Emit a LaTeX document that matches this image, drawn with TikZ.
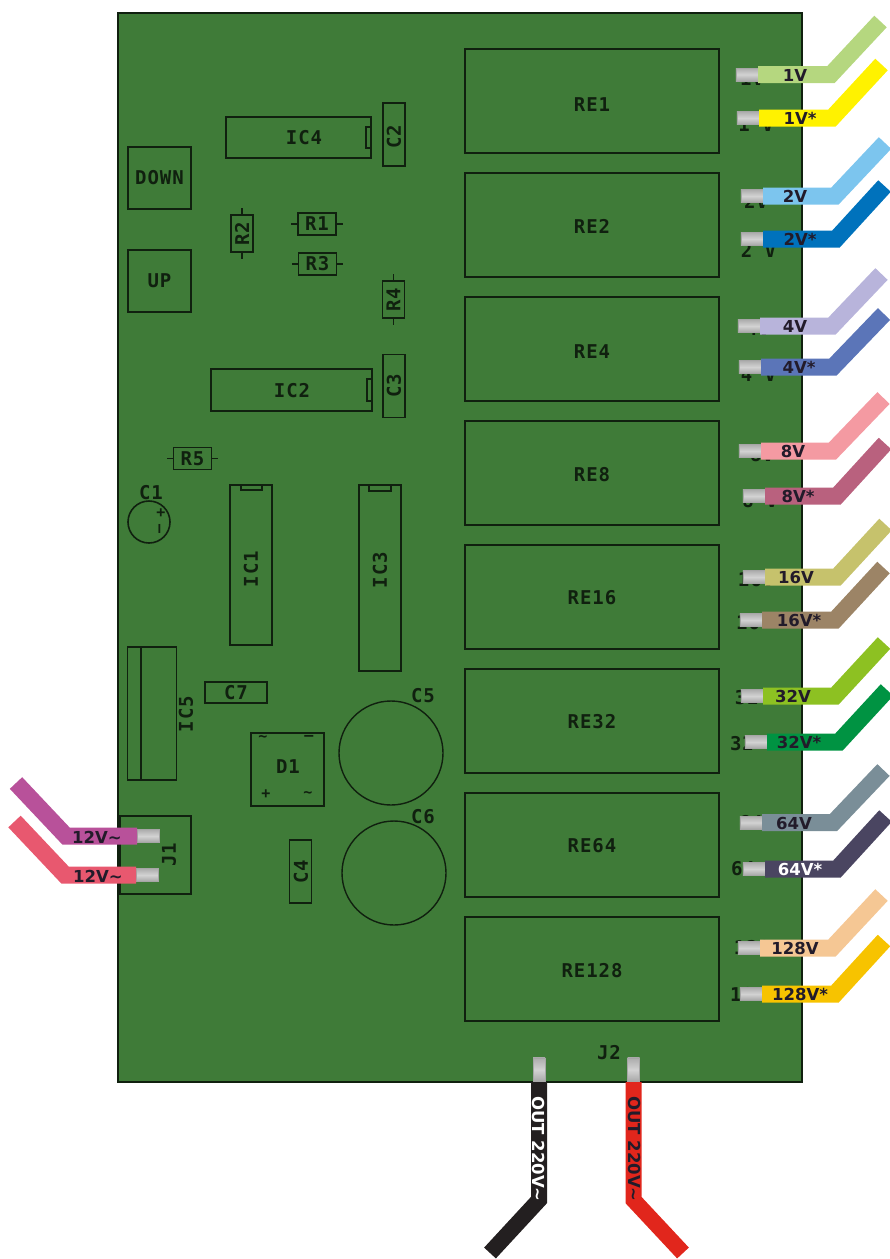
\documentclass[tikz,border=0pt]{standalone}
\usepackage{fontspec}
\usepackage{xcolor}
\usetikzlibrary{positioning}
\setmainfont{DejaVu Sans}
\newfontfamily\pcbfont[LetterSpace=5]{DejaVu Sans Mono}
\definecolor{boardgreen}{HTML}{3F7B38}
\definecolor{inkdark}{HTML}{10200F}
\definecolor{labeldark}{HTML}{221B2A}
\definecolor{wOne}{HTML}{B5D77F}
\definecolor{wOneS}{HTML}{FFF200}
\definecolor{wTwo}{HTML}{7CC5EE}
\definecolor{wTwoS}{HTML}{0072BC}
\definecolor{wFour}{HTML}{B8B4DB}
\definecolor{wFourS}{HTML}{5B75B8}
\definecolor{wEight}{HTML}{F49AA2}
\definecolor{wEightS}{HTML}{B9617E}
\definecolor{wSixteen}{HTML}{C6C26C}
\definecolor{wSixteenS}{HTML}{9C8466}
\definecolor{wThirtyTwo}{HTML}{8DC122}
\definecolor{wThirtyTwoS}{HTML}{009342}
\definecolor{wSixtyFour}{HTML}{7A8E98}
\definecolor{wSixtyFourS}{HTML}{4A4561}
\definecolor{wOneTwoEight}{HTML}{F5C794}
\definecolor{wOneTwoEightS}{HTML}{F7C300}
\definecolor{wPowerA}{HTML}{B8519A}
\definecolor{wPowerB}{HTML}{E8586F}
\definecolor{wOutA}{HTML}{231F20}
\definecolor{wOutB}{HTML}{E1261C}

\begin{document}
\begin{tikzpicture}[
  x=1pt, y=-1pt,
  silk/.style={font=\pcbfont\bfseries\fontsize{19}{19}\selectfont, text=inkdark, inner sep=0pt},
  polarity/.style={silk, font=\pcbfont\bfseries\fontsize{15}{15}\selectfont},
  part/.style={draw=inkdark, line width=1.6pt, inner sep=0pt, minimum width=#1},
  tallpart/.style={part=22pt, minimum height=63pt},
  widepart/.style={part=62pt, minimum height=21pt},
  resbox/.style={part=38pt, minimum height=22pt},
  resvert/.style={part=22pt, minimum height=37pt},
  trace/.style={draw=inkdark, line width=1.6pt},
  term/.style={draw=gray!70, line width=0.4pt, minimum width=22pt, minimum height=13pt,
    inner sep=0pt, top color=gray!65, bottom color=gray!70, middle color=gray!35},
  wire/.style={line width=17pt, miter limit=4},
  wiretext/.style={font=\bfseries\fontsize{16.5}{17}\selectfont, inner sep=0pt}
]
  \useasboundingbox (0,0) rectangle (890,1259);
  \node[draw=inkdark, line width=1.8pt, fill=boardgreen, minimum width=684pt, minimum height=1069pt, inner sep=0pt] (board) at (460,547.5) {};

  % relays
  \foreach \n/\yy/\ty in {1/101/105, 2/225/226, 4/349/352, 8/473/475, 16/597/598, 32/721/722, 64/845/846, 128/969/971} {
    \node[part=254pt, minimum height=104pt] (re\n) at (592,\yy) {};
    \node[silk] (rel\n) at (592,\ty) {RE\n};
  }

  % switches
  \node[part=63pt, minimum height=62pt, silk] (down) at (159.5,178) {DOWN};
  \node[part=63pt, minimum height=62pt, silk] (up) at (159.5,281) {UP};

  % ic packages
  \node[part=145pt, minimum height=41pt] (ic4) at (298.5,137.5) {};
  \node[silk] (ic4t) at (304,138) {IC4};
  \node[part=161pt, minimum height=42pt] (ic2) at (291.5,390) {};
  \node[silk] (ic2t) at (292,391) {IC2};
  \node[part=42pt, minimum height=160pt] (ic1) at (251,565) {};
  \node[silk, rotate=90] (ic1t) at (251,569) {IC1};
  \node[part=42pt, minimum height=186pt] (ic3) at (380,578) {};
  \node[silk, rotate=90] (ic3t) at (380,570) {IC3};
  \node[part=5pt, minimum height=21pt] (n4) at (368.5,137.5) {};
  \node[part=5pt, minimum height=22pt] (n2) at (369.5,390) {};
  \node[part=21pt, minimum height=5pt] (n1) at (251.5,487.5) {};
  \node[part=22pt, minimum height=6pt] (n3) at (380,488) {};
  \node[part=49pt, minimum height=133pt] (ic5) at (152,713.5) {};
  \draw[trace] (141,647) -- (141,780);
  \node[silk, rotate=90] (ic5t) at (186,714) {IC5};

  % capacitors
  \node[tallpart] (c2) at (394,134.5) {};
  \node[silk, rotate=90] (c2t) at (394,137) {C2};
  \node[tallpart] (c3) at (394,386) {};
  \node[silk, rotate=90] (c3t) at (394,386) {C3};
  \node[tallpart] (c4) at (300.5,871.5) {};
  \node[silk, rotate=90] (c4t) at (301,872) {C4};
  \node[widepart, silk] (c7) at (236,692.5) {C7};
  \node[circle, part=42pt] (c1) at (149,522) {};
  \node[silk] (c1t) at (151,493) {C1};
  \node[polarity] (c1p) at (161,513) {+};
  \node[polarity, rotate=90] (c1m) at (161,529) {\textendash};
  \node[circle, draw=inkdark, line width=1.4pt, minimum width=104pt, inner sep=0pt] (c5) at (391,753) {};
  \node[silk] (c5t) at (423,696) {C5};
  \node[circle, draw=inkdark, line width=1.4pt, minimum width=104pt, inner sep=0pt] (c6) at (394,873) {};
  \node[silk] (c6t) at (423,817) {C6};

  % resistors
  \foreach \n/\xx/\yy in {R1/317/224, R3/317.5/264, R5/192.5/458.5} {
    \node[resbox, silk] (\n) at (\xx,\yy) {\n};
    \draw[trace] (\n.west) -- ++(-6,0) (\n.east) -- ++(6,0);
  }
  \foreach \n/\xx/\yy in {R2/242/233.5, R4/393.5/299.5} {
    \node[resvert] (\n) at (\xx,\yy) {};
    \node[silk, rotate=90] (\n t) at (\xx,\yy) {\n};
    \draw[trace] (\n.north) -- ++(0,-6) (\n.south) -- ++(0,6);
  }

  % bridge
  \node[part=73pt, minimum height=73pt] (d1) at (287.5,769.5) {};
  \node[silk] (d1t) at (288,767) {D1};
  \node[polarity] (d1a) at (263,739) {\textasciitilde};
  \node[polarity] (d1b) at (309,738) {\textendash};
  \node[polarity] (d1c) at (266,794) {+};
  \node[polarity] (d1d) at (308,795) {\textasciitilde};

  % connectors
  \node[part=71pt, minimum height=78pt] (j1) at (155.5,855) {};
  \node[silk, rotate=90] (j1t) at (169,855) {J1};
  \node[silk] (j2) at (609,1053) {J2};

  % voltage wires on the right
  \foreach \n/\lab/\col/\tcol/\hid/\hx/\hy/\sx/\yy/\bx/\ex/\ey/\lx in {
    a/1V/wOne/labeldark/1V/752/79/758/74.5/831/880.5/21.5/795,
    b/1V*/wOneS/labeldark/1 V/756/125/759/118/832/881.5/64.5/800,
    c/2V/wTwo/labeldark/2V/756/201.5/763/196/835/885/143/795,
    d/2V*/wTwoS/labeldark/2 V/758.5/250/763/239/836/884.5/186/800,
    e/4V/wFour/labeldark/4V/758/329/760/326/832/881.5/274/795,
    f/4V*/wFourS/labeldark/4 V/758.5/375/761/367/833/884/314/799,
    g/8V/wEight/labeldark/8V/762/455/761/451/832.5/883.5/398/793,
    h/8V*/wEightS/labeldark/8 V/760/501/765/496/837/885/443.5/798,
    i/16V/wSixteen/labeldark/16V/756/579.5/765/577/837/885.5/524.5/796,
    j/16V*/wSixteenS/labeldark/16/748/623/762/620/835/883.5/567.5/799,
    k/32V/wThirtyTwo/labeldark/32V/753/697.5/763/696/835/884/643/793,
    l/32V*/wThirtyTwoS/labeldark/32/742/744/767/742/839/887/690/799,
    m/64V/wSixtyFour/labeldark/64V/757/823/762/822.5/833.5/883.5/770/794,
    n/64V*/wSixtyFourS/white/64/743/869/765/869/837/885.5/816/800,
    o/128V/wOneTwoEight/labeldark/128/752/948/760/948/832/881.5/895/795,
    p/128V*/wOneTwoEightS/labeldark/12/742/994/762/994/835/884/940.5/800} {
    \node[silk] (hid\n) at (\hx,\hy) {\hid};
    \node[term, anchor=east] (t\n) at (\sx,\yy) {};
    \coordinate (e\n) at (\ex,\ey);
    \draw[wire, draw=\col] (t\n.east) -- (\bx,\yy) -- (e\n);
    \node[wiretext, text=\tcol] (l\n) at (\lx,\yy+0.5) {\lab};
  }

  % supply wires on the left
  \node[term, anchor=west] (ta) at (137,836) {};
  \coordinate (ea) at (16,783);
  \draw[wire, draw=wPowerA] (ta.west) -- (66,836) -- (ea);
  \node[wiretext, text=labeldark] (la) at (97,837) {12V\textasciitilde};
  \node[term, anchor=west] (tb) at (136,875) {};
  \coordinate (eb) at (14.5,821.5);
  \draw[wire, draw=wPowerB] (tb.west) -- (65,875) -- (eb);
  \node[wiretext, text=labeldark] (lb) at (98,876) {12V\textasciitilde};

  % output wires
  \node[term, minimum width=12pt, minimum height=24pt, anchor=south] (ob) at (539,1082) {};
  \coordinate (eob) at (490,1253);
  \draw[wire, line width=16pt, draw=wOutA] (ob.south) -- (539,1200) -- (eob);
  \node[wiretext, text=white, rotate=-90] (lob) at (539,1149) {OUT 220V\textasciitilde};
  \node[term, minimum width=12pt, minimum height=24pt, anchor=south] (or) at (633.5,1082) {};
  \coordinate (eor) at (683,1253);
  \draw[wire, line width=16pt, draw=wOutB] (or.south) -- (633.5,1200) -- (eor);
  \node[wiretext, text=labeldark, rotate=-90] (lor) at (634,1149) {OUT 220V\textasciitilde};
\end{tikzpicture}
\end{document}
